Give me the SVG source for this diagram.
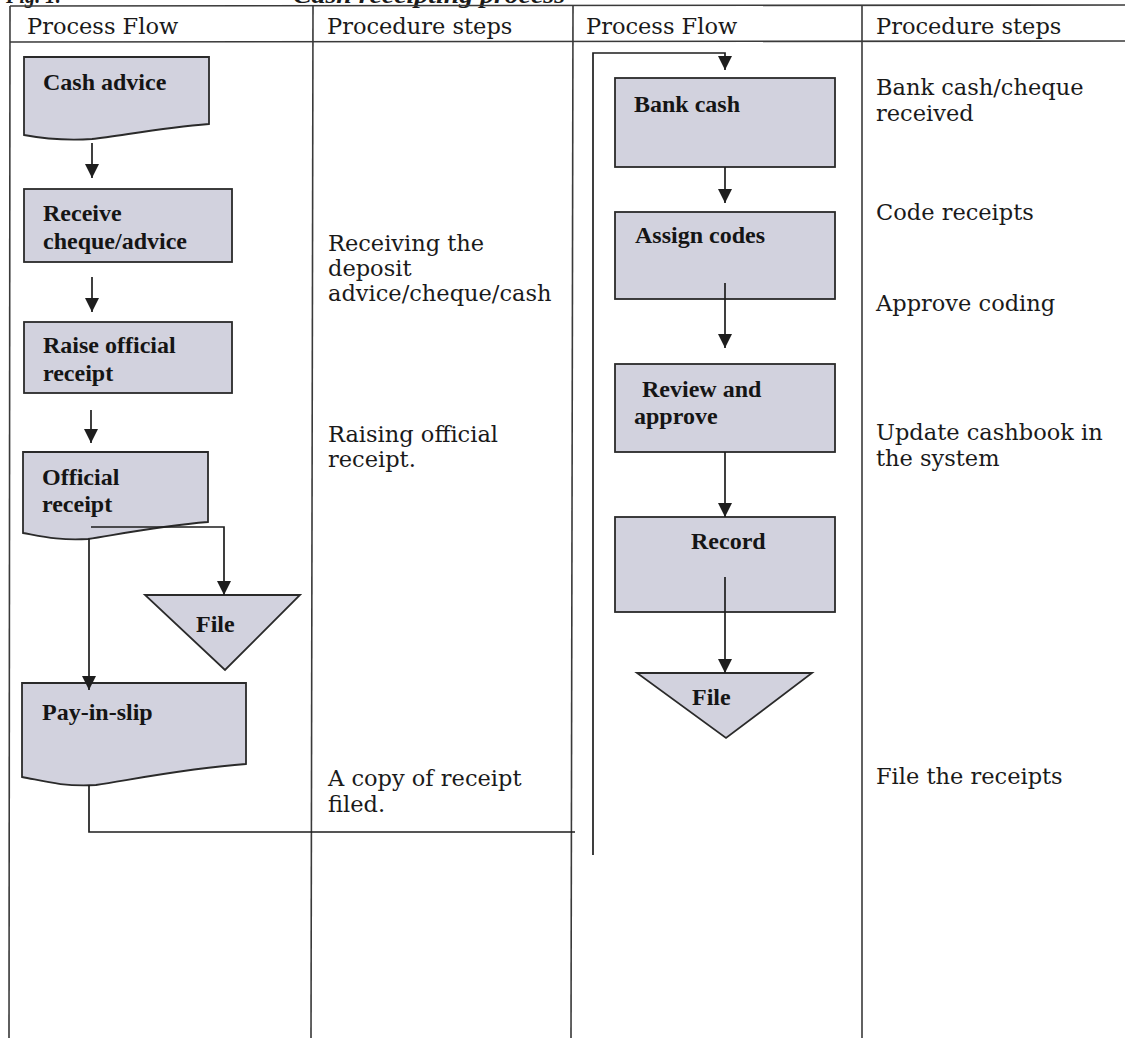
<svg xmlns="http://www.w3.org/2000/svg" width="1125" height="1038" viewBox="0 0 1125 1038">
<style>
.grid{stroke:#3a3a3a;stroke-width:1.6;fill:none}
.hdr{font-family:"DejaVu Serif","Liberation Serif",serif;font-size:22.5px;fill:#1a1a1a}
.step{font-family:"DejaVu Serif","Liberation Serif",serif;font-size:22.5px;fill:#1a1a1a}
.cap{font-family:"Liberation Serif",serif;font-size:23px;font-weight:bold;font-style:italic;fill:#1a1a1a}
.shape{fill:#d2d2de;stroke:#2a2a2a;stroke-width:1.8}
.lbl{font-family:"Liberation Serif","Times New Roman",serif;font-size:24px;font-weight:bold;fill:#151515}
.conn{stroke:#1e1e1e;stroke-width:1.7;fill:none}
</style>
<defs>
<marker id="arr" viewBox="0 0 14 14" refX="14" refY="7" markerWidth="14" markerHeight="14" markerUnits="userSpaceOnUse" orient="auto">
<path d="M0,0 L14,7 L0,14 z" fill="#1e1e1e"/>
</marker>
</defs>
<rect width="1125" height="1038" fill="#ffffff"/>

<g id="caption">
<text class="cap" x="6" y="3" textLength="56" lengthAdjust="spacingAndGlyphs">Fig. 1:</text>
<text class="cap" x="293" y="3" textLength="272" lengthAdjust="spacingAndGlyphs">Cash receipting process</text>
</g>

<g id="table">
<line class="grid" x1="10" y1="6" x2="1125" y2="5" stroke-width="2"/>
<line class="grid" x1="10" y1="42" x2="1125" y2="41" stroke-width="2"/>
<line class="grid" x1="10" y1="6" x2="9" y2="1038"/>
<line class="grid" x1="313" y1="6" x2="311" y2="1038"/>
<line class="grid" x1="573" y1="5" x2="571" y2="1038"/>
<line class="grid" x1="862" y1="5" x2="862" y2="1038"/>
<text class="hdr" x="27" y="34">Process Flow</text>
<text class="hdr" x="327" y="34">Procedure steps</text>
<text class="hdr" x="586" y="34">Process Flow</text>
<text class="hdr" x="876" y="34">Procedure steps</text>
</g>

<g id="steps-left">
<text class="step" x="328" y="251">Receiving the</text>
<text class="step" x="328" y="276">deposit</text>
<text class="step" x="328" y="301">advice/cheque/cash</text>
<text class="step" x="328" y="442">Raising official</text>
<text class="step" x="328" y="467">receipt.</text>
<text class="step" x="328" y="786">A copy of receipt</text>
<text class="step" x="328" y="812">filed.</text>
</g>

<g id="steps-right">
<text class="step" x="876" y="95">Bank cash/cheque</text>
<text class="step" x="876" y="121">received</text>
<text class="step" x="876" y="220">Code receipts</text>
<text class="step" x="876" y="311">Approve coding</text>
<text class="step" x="876" y="440">Update cashbook in</text>
<text class="step" x="876" y="466">the system</text>
<text class="step" x="876" y="784">File the receipts</text>
</g>

<g id="cash-advice">
<path class="shape" d="M24,57 H209 V124 C160,128 120,136 92,139 C60,141 40,138 24,135 Z"/>
<text class="lbl" x="43" y="90">Cash advice</text>
</g>
<g id="receive">
<rect class="shape" x="24" y="189" width="208" height="73"/>
<text class="lbl" x="43" y="221">Receive</text>
<text class="lbl" x="43" y="249">cheque/advice</text>
</g>
<g id="raise">
<rect class="shape" x="24" y="322" width="208" height="71"/>
<text class="lbl" x="43" y="353">Raise official</text>
<text class="lbl" x="43" y="381">receipt</text>
</g>
<g id="official-receipt">
<path class="shape" d="M23,452 H208 V522 C160,526 120,534 88,539 C60,541 40,536 23,533 Z"/>
<text class="lbl" x="42" y="485">Official</text>
<text class="lbl" x="42" y="512">receipt</text>
</g>
<g id="file-left">
<path class="shape" d="M145,595 H300 L225,670 Z"/>
<text class="lbl" x="196" y="632">File</text>
</g>
<g id="pay-in-slip">
<path class="shape" d="M22,683 H246 V764 C190,768 140,778 96,785 C60,787 40,780 22,777 Z"/>
<text class="lbl" x="42" y="720">Pay-in-slip</text>
</g>

<g id="bank-cash">
<rect class="shape" x="615" y="78" width="220" height="89"/>
<text class="lbl" x="634" y="112">Bank cash</text>
</g>
<g id="assign-codes">
<rect class="shape" x="615" y="212" width="220" height="87"/>
<text class="lbl" x="635" y="243">Assign codes</text>
</g>
<g id="review">
<rect class="shape" x="615" y="364" width="220" height="88"/>
<text class="lbl" x="642" y="397">Review and</text>
<text class="lbl" x="634" y="424">approve</text>
</g>
<g id="record">
<rect class="shape" x="615" y="517" width="220" height="95"/>
<text class="lbl" x="691" y="549">Record</text>
</g>
<g id="file-right">
<path class="shape" d="M637,673 H812 L726,738 Z"/>
<text class="lbl" x="692" y="705">File</text>
</g>

<g id="connectors">
<line class="conn" x1="92" y1="143" x2="92" y2="178" marker-end="url(#arr)"/>
<line class="conn" x1="92" y1="277" x2="92" y2="312" marker-end="url(#arr)"/>
<line class="conn" x1="91" y1="410" x2="91" y2="443" marker-end="url(#arr)"/>
<polyline class="conn" points="91,527 224,527 224,595" marker-end="url(#arr)"/>
<line class="conn" x1="89" y1="539" x2="89" y2="690" marker-end="url(#arr)"/>
<polyline class="conn" points="89,785 89,832 575,832"/>
<polyline class="conn" points="593,855 593,53 725,53 725,70" marker-end="url(#arr)"/>
<line class="conn" x1="725" y1="167" x2="725" y2="203" marker-end="url(#arr)"/>
<line class="conn" x1="725" y1="283" x2="725" y2="348" marker-end="url(#arr)"/>
<line class="conn" x1="725" y1="452" x2="725" y2="517" marker-end="url(#arr)"/>
<line class="conn" x1="725" y1="577" x2="725" y2="673" marker-end="url(#arr)"/>
</g>
</svg>
